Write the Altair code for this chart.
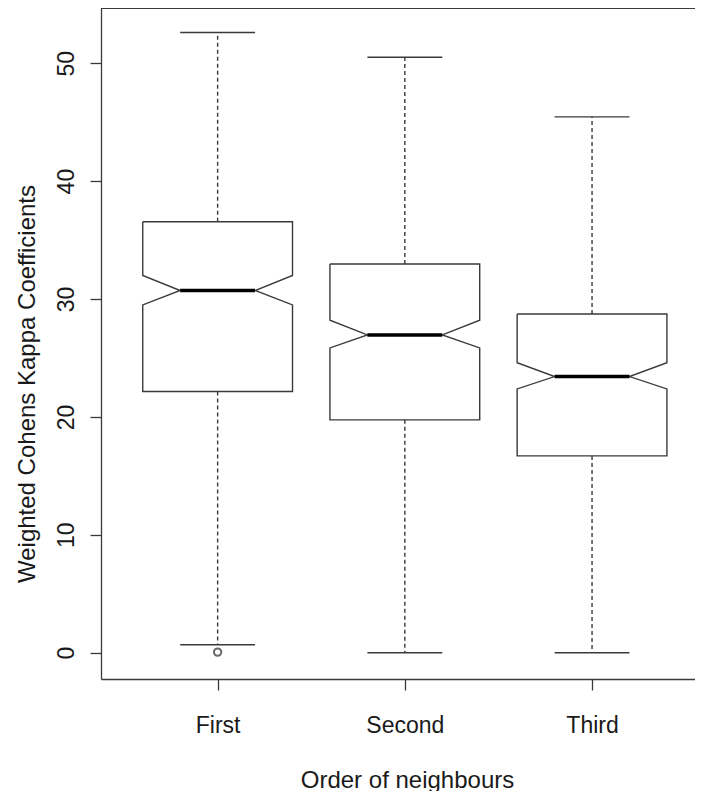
import altair as alt
import pandas as pd

categories = ["First", "Second", "Third"]
whisker_hi = [52.6, 50.5, 45.45]
q3 = [36.55, 32.97, 28.73]
median = [30.72, 26.95, 23.42]
q1 = [22.15, 19.75, 16.69]
whisker_lo = [0.68, 0.0, 0.0]
notch_hi = [32.0, 28.2, 24.6]
notch_lo = [29.5, 25.85, 22.37]
outlier_cat = ["First"]
outlier_val = [0.05]

W = 0.4  # half box width (R boxwex 0.8)
LINE = "#3a3a3a"

rows = []
summary = []
for i, cat in enumerate(categories):
    c = i + 1
    pts = [
        (c - W, q3[i]), (c + W, q3[i]), (c + W, notch_hi[i]), (c + W / 2, median[i]),
        (c + W, notch_lo[i]), (c + W, q1[i]), (c - W, q1[i]), (c - W, notch_lo[i]),
        (c - W / 2, median[i]), (c - W, notch_hi[i]), (c - W, q3[i]),
    ]
    for k, (x, y) in enumerate(pts):
        rows.append({"cat": cat, "order": k, "x": x, "y": y})
    summary.append({
        "cat": cat, "c": c, "lo": c - W / 2, "hi": c + W / 2,
        "whi": whisker_hi[i], "q3": q3[i], "med": median[i], "q1": q1[i], "wlo": whisker_lo[i],
    })
outline = pd.DataFrame(rows)
summ = pd.DataFrame(summary)
outl = pd.DataFrame({"c": [categories.index(k) + 1 for k in outlier_cat], "v": outlier_val})

PW, PH = 594, 671
xscale = alt.Scale(domain=[0.377, 3.550], nice=False, zero=False)
yscale = alt.Scale(domain=[-2.23, 54.68], nice=False, zero=False)

label_expr = "[" + ",".join("'%s'" % c for c in categories) + "][datum.value - 1]"

xaxis = alt.Axis(
    values=[1, 2, 3], labelExpr=label_expr, grid=False, title="Order of neighbours",
    tickSize=11, tickColor=LINE, tickWidth=1.3, domainColor=LINE, domainWidth=1.3,
    labelFont="Liberation Sans", labelFontSize=23, labelColor="#1a1a1a",
    labelBaseline="alphabetic", labelAlign="center", labelPadding=42,
    titleFont="Liberation Sans", titleFontSize=24, titleFontWeight="normal", titleColor="#1a1a1a",
    titleX=306, titleY=108, titleBaseline="alphabetic", titleAlign="center",
)
yaxis = alt.Axis(
    values=[0, 10, 20, 30, 40, 50], grid=False, title="Weighted Cohens Kappa Coefficients",
    tickSize=11, tickColor=LINE, tickWidth=1.3, domainColor=LINE, domainWidth=1.3,
    labelFont="Liberation Sans", labelFontSize=23, labelColor="#1a1a1a",
    labelAngle=270, labelAlign="center", labelBaseline="alphabetic", labelPadding=17,
    titleFont="Liberation Sans", titleFontSize=24, titleFontWeight="normal", titleColor="#1a1a1a",
    titleAngle=270, titleX=-67, titleY=375.5, titleBaseline="alphabetic", titleAlign="center",
)

boxes = alt.Chart(outline).mark_line(color=LINE, strokeWidth=1.4).encode(
    x=alt.X("x:Q", scale=xscale, axis=xaxis),
    y=alt.Y("y:Q", scale=yscale, axis=yaxis),
    detail="cat:N",
    order="order:Q",
)

base = alt.Chart(summ)
whisk_up = base.mark_rule(color=LINE, strokeWidth=1.4, strokeDash=[4, 3]).encode(
    x=alt.X("c:Q", scale=xscale), y=alt.Y("q3:Q", scale=yscale), y2="whi:Q")
whisk_dn = base.mark_rule(color=LINE, strokeWidth=1.4, strokeDash=[4, 3]).encode(
    x=alt.X("c:Q", scale=xscale), y=alt.Y("q1:Q", scale=yscale), y2="wlo:Q")
staple_up = base.mark_rule(color=LINE, strokeWidth=1.4).encode(
    x=alt.X("lo:Q", scale=xscale), x2="hi:Q", y=alt.Y("whi:Q", scale=yscale))
staple_dn = base.mark_rule(color=LINE, strokeWidth=1.4).encode(
    x=alt.X("lo:Q", scale=xscale), x2="hi:Q", y=alt.Y("wlo:Q", scale=yscale))
med = base.mark_rule(color="#000000", strokeWidth=3.5).encode(
    x=alt.X("lo:Q", scale=xscale), x2="hi:Q", y=alt.Y("med:Q", scale=yscale))
pts = alt.Chart(outl).mark_point(shape="circle", filled=False, color="#2a2a2a", size=55, strokeWidth=2).encode(
    x=alt.X("c:Q", scale=xscale), y=alt.Y("v:Q", scale=yscale))
top = alt.Chart(summ).mark_rule(color=LINE, strokeWidth=1.4).encode(
    x=alt.value(0), x2=alt.value(PW), y=alt.value(0))

chart = alt.layer(whisk_up, whisk_dn, staple_up, staple_dn, boxes, med, pts, top).properties(
    width=PW, height=PH,
    padding={"left": 93, "top": 0, "right": 0, "bottom": 112},
    autosize=alt.AutoSizeParams(type="none"),
).configure_view(stroke=None).configure(background="white")

chart.save("out.html", embed_options={"renderer": "svg", "actions": False})
